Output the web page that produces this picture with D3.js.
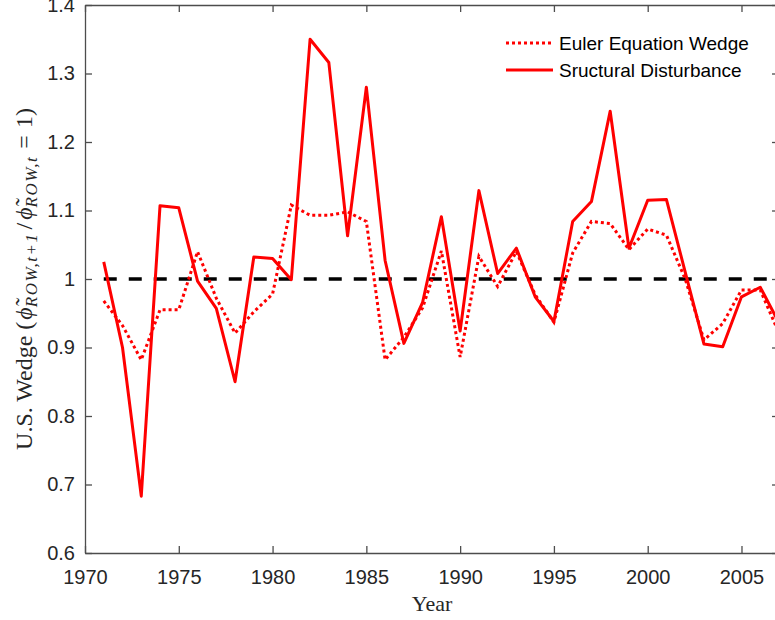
<!DOCTYPE html>
<html>
<head>
<meta charset="utf-8">
<script src="https://cdn.jsdelivr.net/npm/d3@7"></script>
<style>
  body { margin: 0; background: #fff; }
  svg { display: block; }
  .axis text { font-family: "Liberation Sans", Arial, sans-serif; font-size: 20px; fill: #262626; }
  .axis path, .axis line { stroke: #4d4d4d; stroke-width: 1.3; }
</style>
</head>
<body>
<div id="container"></div>
<script>
/* CONSTANTS AND GLOBALS */
const width = 775;
const height = 620;
const plotLeft = 85, plotTop = 5, plotRight = 779, plotBottom = 553;

/* DATA */
const years = d3.range(1971, 2008);
// Euler equation wedge (dotted)
const euler = [0.968, 0.932, 0.882, 0.955, 0.955, 1.040, 0.972, 0.921, 0.952, 0.978,
  1.108, 1.093, 1.093, 1.098, 1.084, 0.882, 0.915, 0.958, 1.041, 0.886,
  1.033, 0.989, 1.040, 0.977, 0.937, 1.038, 1.084, 1.081, 1.043, 1.073,
  1.064, 1.000, 0.911, 0.935, 0.984, 0.984, 0.921];
// structural disturbance (solid)
const structural = [1.025, 0.900, 0.683, 1.107, 1.104, 0.997, 0.957, 0.850, 1.032, 1.030,
  0.999, 1.350, 1.316, 1.063, 1.280, 1.027, 0.906, 0.966, 1.091, 0.924,
  1.129, 1.008, 1.045, 0.974, 0.938, 1.084, 1.113, 1.245, 1.045, 1.115,
  1.116, 1.010, 0.905, 0.901, 0.974, 0.988, 0.936];
const refValue = 1;
const xTicks = [1970, 1975, 1980, 1985, 1990, 1995, 2000, 2005];
const yTicks = [0.6, 0.7, 0.8, 0.9, 1.0, 1.1, 1.2, 1.3, 1.4];
const yTickLabels = ["0.6", "0.7", "0.8", "0.9", "1", "1.1", "1.2", "1.3", "1.4"];
const legendLabels = ["Euler Equation Wedge", "Sructural Disturbance"];

/* SCALES */
const xScale = d3.scaleLinear().domain([1970, 2007]).range([plotLeft, plotRight]);
const yScale = d3.scaleLinear().domain([0.6, 1.4]).range([plotBottom, plotTop]);

const svg = d3.select("#container")
  .append("svg")
  .attr("width", width)
  .attr("height", height);

// axes (MATLAB style box, ticks pointing in)
svg.append("g").attr("class", "axis")
  .attr("transform", `translate(0,${plotBottom})`)
  .call(d3.axisBottom(xScale).tickValues(xTicks).tickFormat(d3.format("d"))
    .tickSizeInner(-7).tickSizeOuter(0).tickPadding(17));
svg.append("g").attr("class", "axis")
  .attr("transform", `translate(0,${plotTop})`)
  .call(d3.axisTop(xScale).tickValues(xTicks).tickFormat("")
    .tickSizeInner(-7).tickSizeOuter(0));
svg.append("g").attr("class", "axis")
  .attr("transform", `translate(${plotLeft},0)`)
  .call(d3.axisLeft(yScale).tickValues(yTicks).tickFormat((d, i) => yTickLabels[i])
    .tickSizeInner(-7).tickSizeOuter(0).tickPadding(10));
svg.append("g").attr("class", "axis")
  .attr("transform", `translate(${plotRight},0)`)
  .call(d3.axisRight(yScale).tickValues(yTicks).tickFormat("")
    .tickSizeInner(-7).tickSizeOuter(0));

// reference line at 1
svg.append("path")
  .datum(years)
  .attr("fill", "none")
  .attr("stroke", "#000")
  .attr("stroke-width", 3.5)
  .attr("stroke-dasharray", "13,12")
  .attr("d", d3.line().x(d => xScale(d)).y(() => yScale(refValue)));

// series
const line = d3.line().x((d, i) => xScale(years[i])).y(d => yScale(d));

svg.append("path")
  .datum(euler)
  .attr("fill", "none")
  .attr("stroke", "#ff0000")
  .attr("stroke-width", 3)
  .attr("stroke-dasharray", "3,3")
  .attr("d", line);

svg.append("path")
  .datum(structural)
  .attr("fill", "none")
  .attr("stroke", "#ff0000")
  .attr("stroke-width", 3)
  .attr("stroke-linejoin", "round")
  .attr("d", line);

// legend
const legend = svg.append("g").attr("transform", "translate(506,43)");
legendLabels.forEach((label, i) => {
  const g = legend.append("g").attr("transform", `translate(0,${i * 27})`);
  g.append("line")
    .attr("x1", 0).attr("x2", 47)
    .attr("stroke", "#ff0000").attr("stroke-width", 3)
    .attr("stroke-dasharray", i === 0 ? "3,3" : null);
  g.append("text")
    .attr("x", 53).attr("y", 7)
    .attr("font-family", "'Liberation Sans', Arial, sans-serif")
    .attr("font-size", 19)
    .attr("fill", "#000")
    .text(label);
});

// x-axis title
svg.append("text")
  .attr("x", (plotLeft + plotRight) / 2)
  .attr("y", 611)
  .attr("text-anchor", "middle")
  .attr("font-family", "'Liberation Serif', 'DejaVu Serif', serif")
  .attr("font-size", 22)
  .attr("fill", "#262626")
  .text("Year");

// y-axis title (LaTeX-like spacing)
const yt = svg.append("text")
  .attr("transform", `translate(32,${(plotTop + plotBottom) / 2}) rotate(-90)`)
  .attr("text-anchor", "middle")
  .attr("font-family", "'Liberation Serif', 'DejaVu Serif', serif")
  .attr("font-size", 24)
  .attr("fill", "#262626");
yt.append("tspan").text("U.S. Wedge (");
yt.append("tspan").attr("font-style", "italic").attr("dx", 2).text("\u03D5\u0303");
yt.append("tspan").attr("font-style", "italic").attr("font-size", 17).attr("dy", 5)
  .attr("letter-spacing", 1.5).text("ROW,t+1");
yt.append("tspan").attr("dy", -5).attr("dx", 3).text("/");
yt.append("tspan").attr("font-style", "italic").attr("dx", 3).text("\u03D5\u0303");
yt.append("tspan").attr("font-style", "italic").attr("font-size", 17).attr("dy", 5)
  .attr("letter-spacing", 1.5).text("ROW,t");
yt.append("tspan").attr("dy", -5).attr("dx", 7).text("=");
yt.append("tspan").attr("dx", 7).text("1)");
</script>
</body>
</html>
